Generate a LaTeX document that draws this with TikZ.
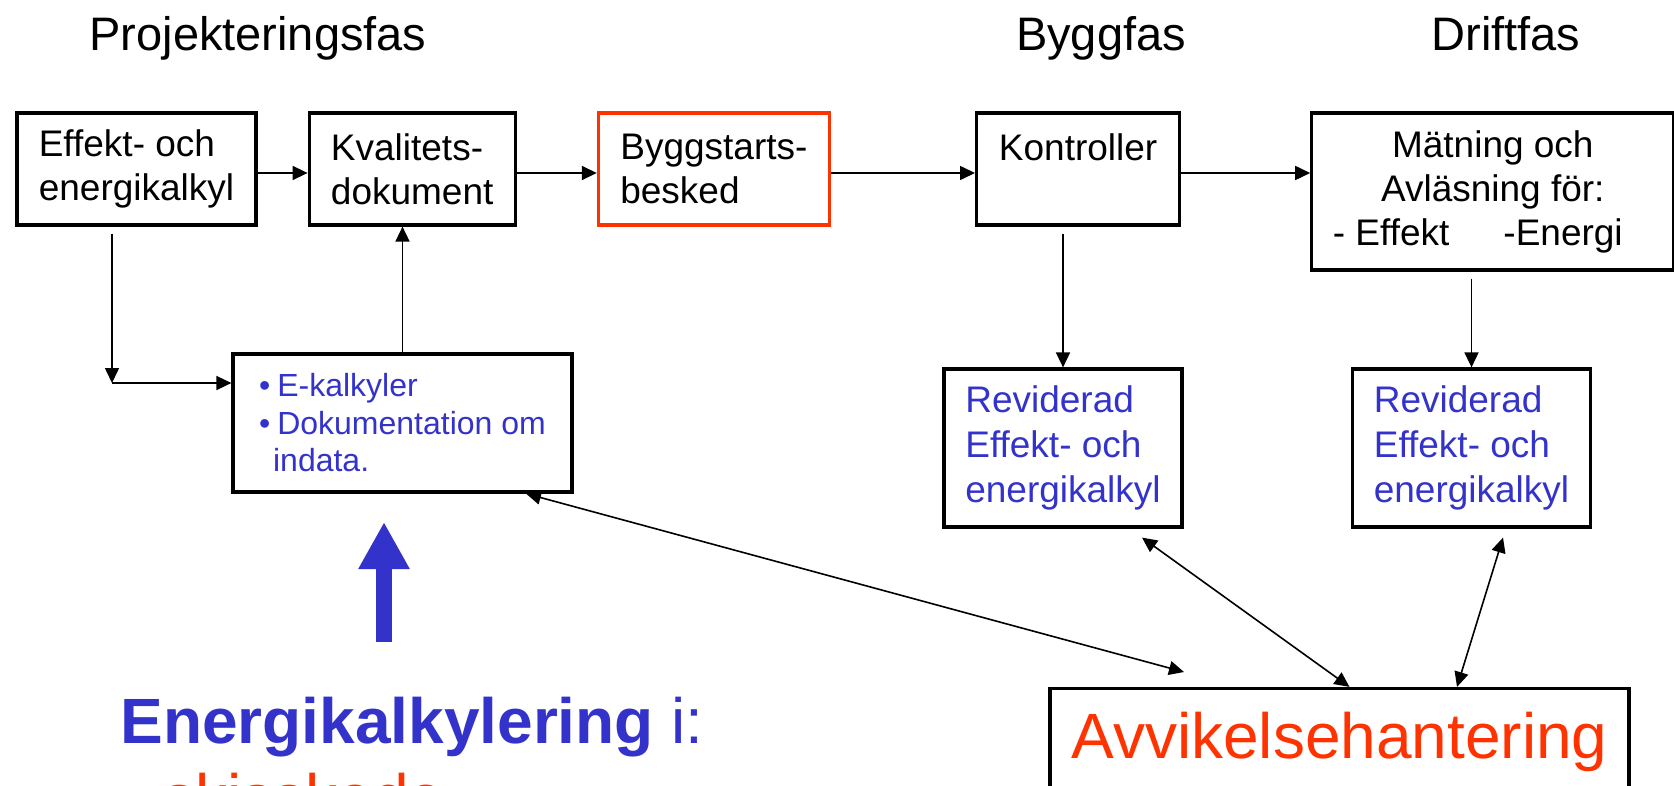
\documentclass[tikz,border=0pt]{standalone}
\usepackage{fontspec}
\setmainfont{Liberation Sans}
\usetikzlibrary{arrows.meta, positioning}
\definecolor{ppblue}{RGB}{51,51,204}
\definecolor{ppred}{RGB}{255,51,0}

\begin{document}
\begin{tikzpicture}[x=0.5pt, y=-0.5pt]
        \tikzstyle{box} = [rectangle, draw, line width=1.6pt, align=left, inner sep=0pt, minimum height=56pt, font=\fontsize{18.5}{22}\selectfont]
        \tikzstyle{bluebox} = [box, text=ppblue, minimum width=119pt, minimum height=79pt, font=\fontsize{18.5}{22.5}\selectfont]
        \tikzstyle{phase} = [anchor=base, inner sep=0pt, font=\fontsize{23.5}{28}\selectfont]
        \tikzstyle{big} = [anchor=base west, inner sep=0pt, font=\fontsize{32}{38}\selectfont]
        \tikzstyle{arrow} = [line width=0.8pt, >={Triangle[length=7.5pt,width=7pt]}]

        \useasboundingbox (0,0) rectangle (1674,786);
        \clip (0,0) rectangle (1674,786);

        \node (projfas) [phase] at (258,51) {Projekteringsfas};
        \node (byggfas) [phase] at (1101,51) {Byggfas};
        \node (driftfas) [phase] at (1506,51) {Driftfas};

        \node (effekt) [box, minimum width=119.5pt] at (136.5,169) {Effekt- och\\energikalkyl};
        \node (kval) [box, minimum width=103pt, right=25pt of effekt] {Kvalitets-\\dokument};
        \node (bygg) [box, draw=ppred, minimum width=115.5pt, right=40pt of kval] {Byggstarts-\\besked};
        \node (kontroll) [box, minimum width=101.5pt, right=72pt of bygg] {Kontroller\\~};
        \node (matning) [box, align=center, minimum width=181pt, minimum height=78.5pt, right=64.5pt of kontroll.north east, anchor=north west] {M\"atning och\\Avl\"asning f\"or:\\- Effekt\hspace{27pt}-Energi\hspace*{15pt}};

        \node (ebox) [box, text=ppblue, minimum width=169.5pt, minimum height=69pt, font=\fontsize{16}{18.75}\selectfont] at (402.5,423) {\textbullet\hspace{3.5pt}E-kalkyler\\\textbullet\hspace{3.5pt}Dokumentation om\hspace*{3pt}\\\hspace*{7pt}indata.};
        \node (rev1) [bluebox] at (1063,448) {Reviderad\\Effekt- och\\energikalkyl};
        \node (rev2) [bluebox] at (1471.5,448) {Reviderad\\Effekt- och\\energikalkyl};
        \node (avv) [box, align=center, text=ppred, minimum width=289.5pt, minimum height=53.5pt, font=\fontsize{32}{38}\selectfont] at (1339.5,742) {Avvikelsehantering};

        \node (kalkyl) [big, text=ppblue] at (120,743) {\textbf{Energikalkylering} i:};
        \node (skede) [big, text=ppred] at (163,819) {skisskede};

        \draw [arrow, ->] ([yshift=-2pt]effekt.east) -- ([yshift=-2pt]kval.west);
        \draw [arrow, ->] ([yshift=-2pt]kval.east) -- ([yshift=-2pt]bygg.west);
        \draw [arrow, ->] ([yshift=-2pt]bygg.east) -- ([yshift=-2pt]kontroll.west);
        \draw [arrow, ->] ([yshift=-2pt]kontroll.east) -- ([yshift=-2pt]kontroll.east -| matning.west);

        \coordinate (knee) at (112,383);
        \draw [arrow, ->, shorten <=3.5pt] (effekt.south -| knee) -- (knee);
        \draw [arrow, ->] (knee) -- (knee -| ebox.west);
        \draw [arrow, ->] (ebox.north) -- (ebox.north |- kval.south);

        \draw [arrow, ->, shorten <=3.5pt] (rev1.north |- kontroll.south) -- (rev1.north);
        \draw [arrow, ->, shorten <=3.5pt] (rev2.north |- matning.south) -- (rev2.north);

        \draw [arrow, <->] ([xshift=39.5pt,yshift=-4.5pt]rev1.south) -- ([xshift=5pt]avv.north);
        \draw [arrow, <->] ([xshift=15.75pt,yshift=-4.5pt]rev2.south) -- ([xshift=58.75pt]avv.north);
        \coordinate (avvpil) at (1184,672);
        \draw [arrow, <->] ([xshift=61.75pt]ebox.south) -- (avvpil);

        % blue block arrow under the E-box
        \coordinate (pilfot) at (384,642);
        \coordinate (pilspets) at (384,522);
        \draw [line width=8pt, ppblue, -{Triangle[length=23.5pt,width=24pt]}] (pilfot) -- (pilspets);
    \end{tikzpicture}
\end{document}
